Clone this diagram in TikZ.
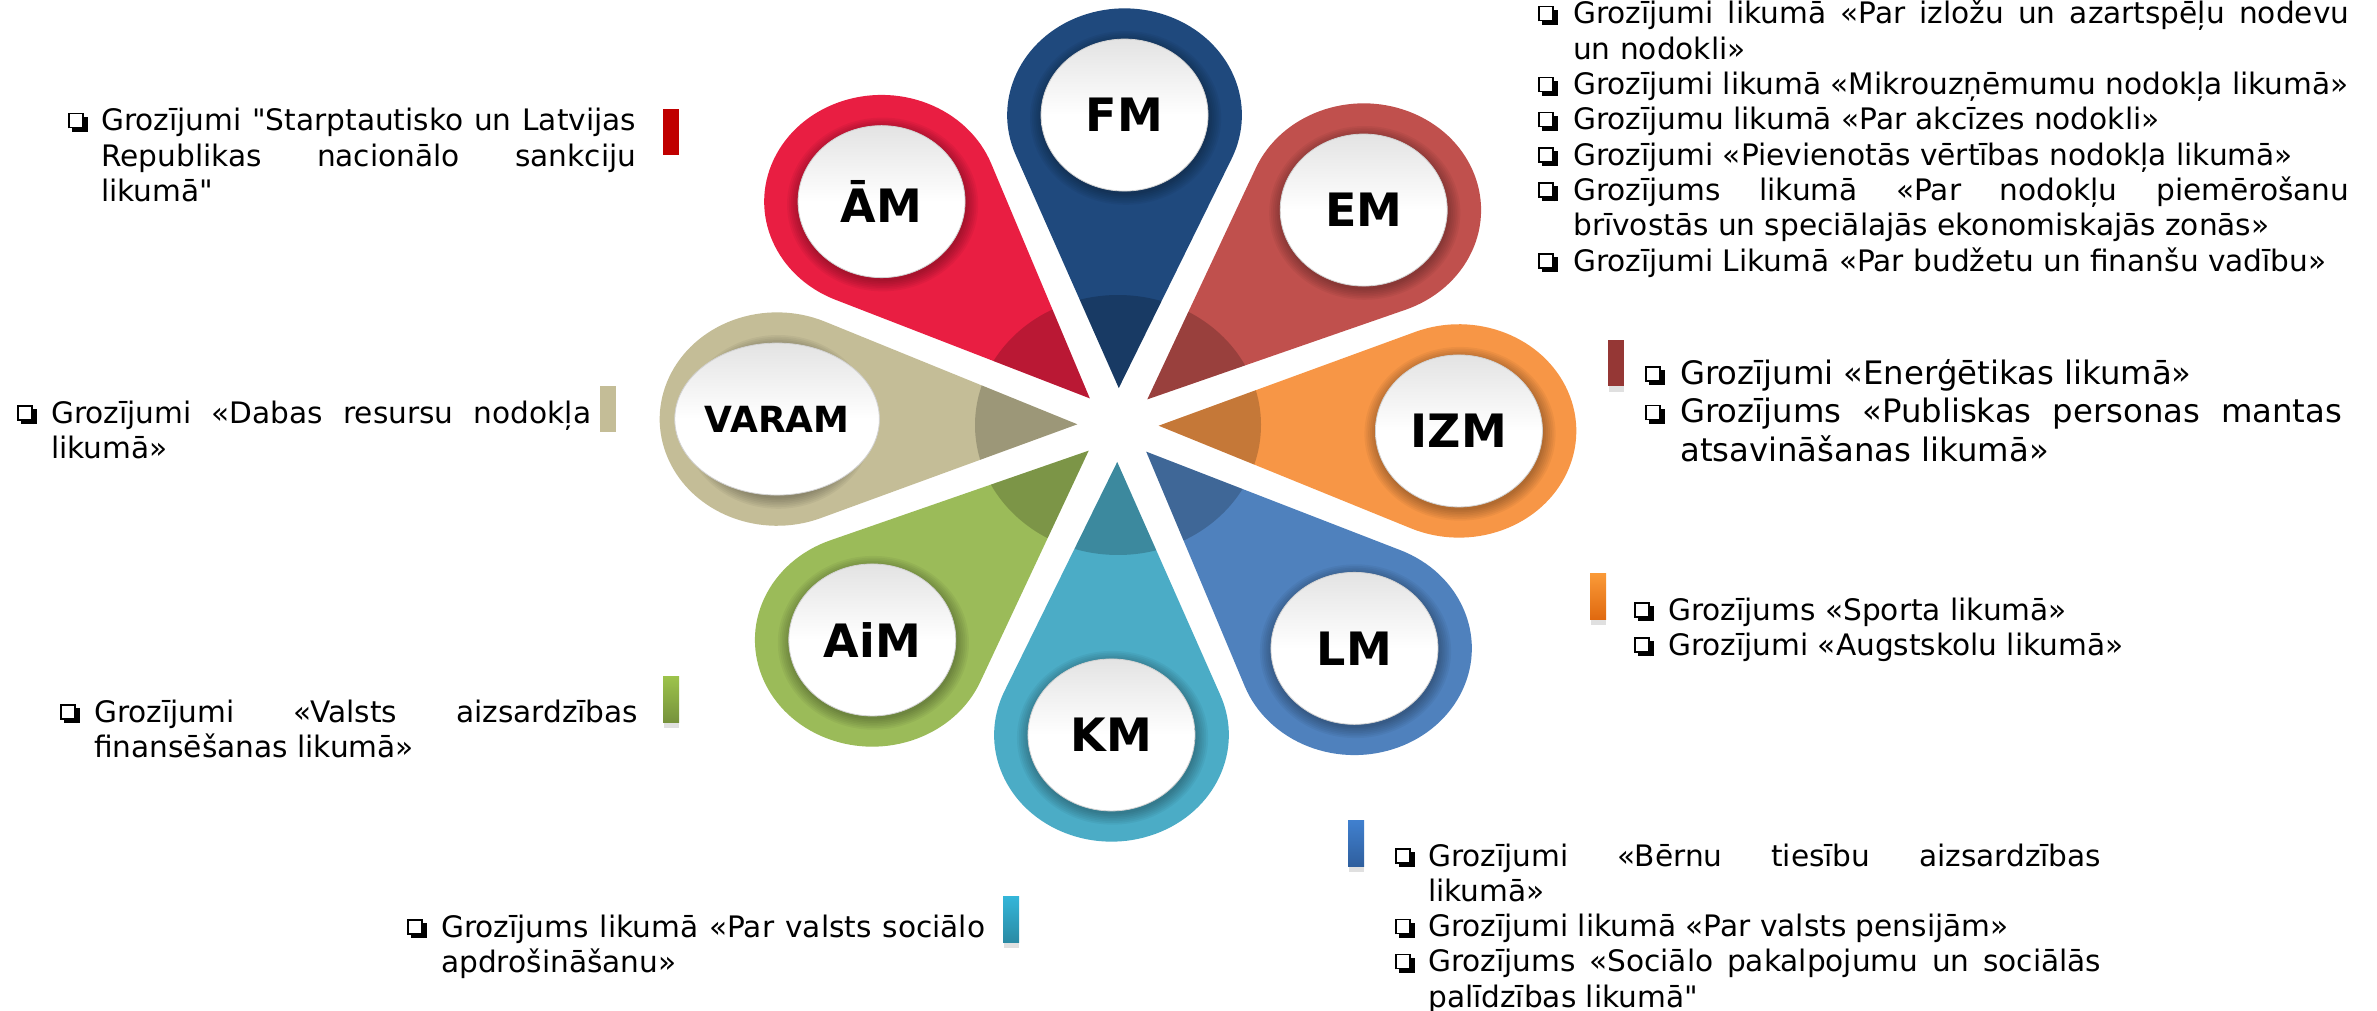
\documentclass[tikz,border=0pt]{standalone}
\usepackage{fontspec}
\setmainfont{DejaVu Sans}
\newfontfamily\qfont{DejaVu Sans}[Ligatures=TeXOff]
\usetikzlibrary{shapes.geometric}
\hyphenpenalty=10000 \exhyphenpenalty=10000
\definecolor{cfm}{RGB}{31,73,125}
\definecolor{cem}{RGB}{192,80,77}
\definecolor{cizm}{RGB}{247,150,70}
\definecolor{clm}{RGB}{79,129,189}
\definecolor{ckm}{RGB}{75,172,198}
\definecolor{caim}{RGB}{155,187,89}
\definecolor{cvaram}{RGB}{196,189,151}
\definecolor{cam}{RGB}{233,30,66}
\newcommand\qq{{\qfont\symbol{34}}}
\newcommand\cbg{%
 \rlap{\rule[2.5pt]{15.5pt}{1.5pt}}%
 \rlap{\rule[16.5pt]{15.5pt}{1.5pt}}%
 \rlap{\rule[2.5pt]{1.5pt}{15.5pt}}%
 \rlap{\hspace{14pt}\rule[2.5pt]{1.5pt}{15.5pt}}%
 \rlap{\hspace{15.5pt}\rule[-1pt]{3.8pt}{15pt}}%
 \rlap{\hspace{4pt}\rule[-1pt]{15.3pt}{3.5pt}}}
\newcommand\itm[2][35pt]{\hangindent=#1\hangafter=1\noindent\makebox[#1][l]{\cbg}#2\par}
\newcommand\petalpath[1]{(#1:37) -- ([shift={(#1+113:106.7)}]#1:310) arc[start angle=#1+113, end angle=#1-113, radius=106.7] -- cycle}
\newcommand\drawpetal[2]{%
  \fill[#2] \petalpath{#1};
  \begin{scope}
    \clip \petalpath{#1};
    \fill[black, opacity=.2] (0,0) circle[radius=130];
    \foreach \k in {1,...,7} \fill[black, opacity=.045] ([shift={(-70:3)}]#1:310) circle[radius=75+\k*1.7];
  \end{scope}}
\tikzset{
  oval/.style={ellipse, minimum width=167pt, minimum height=152pt, inner sep=0pt,
    top color=gray!22, bottom color=white, middle color=white, draw=gray!35, line width=0.8pt,
    font=\fontsize{46}{46}\selectfont\bfseries},
  txt/.style={anchor=base west, inner sep=0pt, align=justify, font=\fontsize{29.6}{35.3}\selectfont},
  txtbig/.style={txt, font=\fontsize{32.3}{38.5}\selectfont},
  bar/.style={minimum width=16pt, minimum height=46pt, inner sep=0pt, anchor=north west}
}
\begin{document}
\begin{tikzpicture}[x=1pt, y=-1pt]
\useasboundingbox (0,0) rectangle (2377,1011);
\fill[white] (0,0) rectangle (2377,1011);
\begin{scope}[shift={(1118,425)}, xscale=1.1, rotate=-1.1, yscale=-1]
  \drawpetal{90}{cfm}
  \drawpetal{45}{cem}
  \drawpetal{0}{cizm}
  \drawpetal{-45}{clm}
  \drawpetal{-90}{ckm}
  \drawpetal{-135}{caim}
  \drawpetal{180}{cvaram}
  \drawpetal{135}{cam}
  \node[oval] (fm) at (90:310) {FM};
  \node[oval] (em) at (45:310) {EM};
  \node[oval] (izm) at (0:310) {IZM};
  \node[oval] (lm) at (-45:310) {LM};
  \node[oval] (km) at (-90:310) {KM};
  \node[oval] (aim) at (-135:310) {AiM};
  \node[oval, font=\fontsize{36}{36}\selectfont\bfseries] (varam) at (180:310) {VARAM};
  \node[oval] (am) at (135:310) {ĀM};
\end{scope}
% bars
\foreach \bx/\by in {663/676, 1003/896, 1348/820, 1590/573, 1608/340}
  \fill[black, opacity=.12] (\bx+1,\by+46) rectangle (\bx+16,\by+52);
\node[bar, fill={rgb,255:red,192;green,0;blue,0}] (bam) at (663,109) {};
\node[bar, fill=cvaram] (bvaram) at (600,386) {};
\node[bar, top color={rgb,255:red,157;green,195;blue,75}, bottom color={rgb,255:red,118;green,146;blue,60}] (baim) at (663,676) {};
\node[bar, top color={rgb,255:red,52;green,182;blue,217}, bottom color={rgb,255:red,42;green,138;blue,164}] (bkm) at (1003,896) {};
\node[bar, top color={rgb,255:red,64;green,128;blue,207}, bottom color={rgb,255:red,47;green,95;blue,158}] (blm) at (1348,820) {};
\node[bar, top color={rgb,255:red,250;green,154;blue,56}, bottom color={rgb,255:red,224;green,105;blue,15}] (bizm) at (1590,573) {};
\node[bar, fill={rgb,255:red,149;green,55;blue,53}] (bem) at (1608,340) {};
% texts
\node[txt, text width=811pt] (tfm) at (1538,24) {%
\itm{Grozījumi~likumā~«Par~izložu~un~azartspēļu~nodevu \linebreak un~nodokli»}%
\itm{Grozījumi~likumā~«Mikrouzņēmumu~nodokļa~likumā»}%
\itm{Grozījumu~likumā~«Par~akcīzes~nodokli»}%
\itm{Grozījumi~«Pievienotās~vērtības~nodokļa~likumā»}%
\itm{Grozījums~likumā~«Par~nodokļu~piemērošanu \linebreak brīvostās~un~speciālajās~ekonomiskajās~zonās»}%
\itm{Grozījumi~Likumā~«Par~budžetu~un~finanšu~vadību»}};
\node[txt, text width=568pt] (tam) at (68,131) {%
\itm[33pt]{Grozījumi~\qq Starptautisko~un~Latvijas \linebreak Republikas~nacionālo~sankciju \linebreak likumā\qq}};
\node[txt, text width=574pt] (tvaram) at (17,423) {%
\itm[34pt]{Grozījumi~«Dabas~resursu~nodokļa \linebreak likumā»}};
\node[txt, text width=578pt] (taim) at (60,722) {%
\itm[34pt]{Grozījumi~«Valsts~aizsardzības \linebreak finansēšanas~likumā»}};
\node[txt, text width=578pt] (tkm) at (407,937) {%
\itm[34pt]{Grozījums~likumā~«Par~valsts~sociālo \linebreak apdrošināšanu»}};
\node[txt, text width=706pt] (tlm) at (1395,866) {%
\itm[33pt]{Grozījumi~«Bērnu~tiesību~aizsardzības \linebreak likumā»}%
\itm[33pt]{Grozījumi~likumā~«Par~valsts~pensijām»}%
\itm[33pt]{Grozījums~«Sociālo~pakalpojumu~un~sociālās \linebreak palīdzības~likumā\qq}};
\node[txtbig, text width=697pt] (tem) at (1645,384) {%
\itm{Grozījumi~«Enerģētikas~likumā»}%
\itm{Grozījums~«Publiskas~personas~mantas \linebreak atsavināšanas~likumā»}};
\node[txt, text width=650pt] (tizm) at (1634,620) {%
\itm[34pt]{Grozījums~«Sporta~likumā»}%
\itm[34pt]{Grozījumi~«Augstskolu~likumā»}};
\end{tikzpicture}
\end{document}
